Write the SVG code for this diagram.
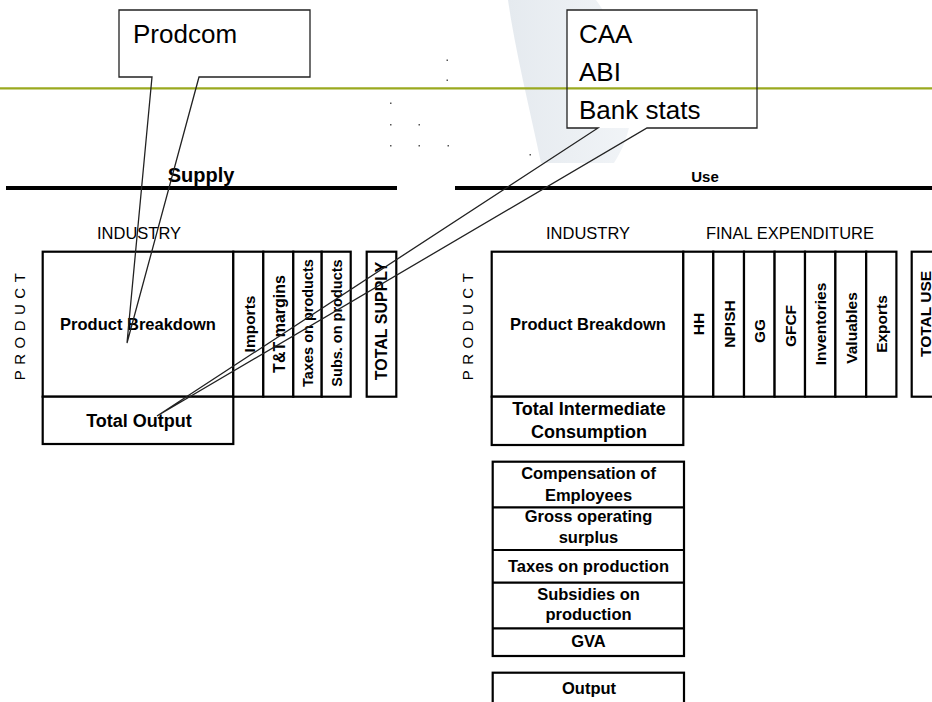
<svg xmlns="http://www.w3.org/2000/svg" width="932" height="702" viewBox="0 0 932 702">
<defs>
<linearGradient id="sw" x1="0" y1="0" x2="1" y2="0">
<stop offset="0" stop-color="#e5eaef"/>
<stop offset="1" stop-color="#f1f4f7"/>
</linearGradient>
<style>
text{font-family:"Liberation Sans",Arial,sans-serif;fill:#000}
.b{font-weight:bold}
.c{text-anchor:middle}
.r{text-anchor:middle;dominant-baseline:central;font-weight:bold}
.cell{fill:#fff;stroke:#000;stroke-width:2.2}
.rule{stroke:#000;stroke-width:4}
.co{fill:#fff;stroke:none}
.tail{fill:none;stroke:#222;stroke-width:1.3;stroke-linejoin:miter}
.dot{fill:#555}
.big{font-size:26px}
.hd{font-size:16.5px}
.prod{font-size:15px;letter-spacing:5.5px;text-anchor:middle;dominant-baseline:central}
</style>
</defs>
<rect width="932" height="702" fill="#fff"/>
<path d="M508,0 L596,0 C625,40 650,110 614,163 L541,163 C530,110 515,50 508,0 Z" fill="url(#sw)"/>
<g id="dots" class="dot">
<rect x="446.5" y="59.5" width="1.5" height="1.5"/>
<rect x="446.5" y="79.5" width="1.5" height="1.5"/>
<rect x="390" y="102.5" width="1.5" height="1.5"/>
<rect x="390" y="124" width="1.5" height="1.5"/>
<rect x="418.5" y="124" width="1.5" height="1.5"/>
<rect x="390" y="145" width="1.5" height="1.5"/>
<rect x="418.5" y="145" width="1.5" height="1.5"/>
<rect x="447.5" y="145" width="1.5" height="1.5"/>
<rect x="529.5" y="154" width="1.5" height="1.5"/>
</g>
<g id="prodcom">
<rect class="co" x="119" y="10" width="191" height="67"/>
<text class="big" x="133" y="43">Prodcom</text>
</g>
<g id="sources">
<rect class="co" x="567" y="10" width="190" height="118"/>
<text class="big" x="579" y="43">CAA</text>
<text class="big" x="579" y="81">ABI</text>
<text class="big" x="579" y="119">Bank stats</text>
</g>
<line id="green-rule" x1="0" y1="88.3" x2="932" y2="88.3" stroke="#9aa91f" stroke-width="2.2"/>
<g id="supply-header">
<line class="rule" x1="6" y1="188" x2="397" y2="188"/>
<text class="b c" x="201" y="182" font-size="20">Supply</text>
<text class="hd c" x="139" y="238.5">INDUSTRY</text>
<text class="prod" transform="translate(19,324) rotate(-90)">PRODUCT</text>
</g>
<g id="supply-breakdown">
<rect class="cell" x="42.7" y="251.7" width="190.6" height="145"/>
<text class="b c" x="138" y="330" font-size="16.5">Product Breakdown</text>
</g>
<g id="supply-total-output">
<rect class="cell" x="42.7" y="396.7" width="190.6" height="47.3"/>
<text class="b c" x="139" y="426.7" font-size="18">Total Output</text>
</g>
<g id="supply-imports">
<rect class="cell" x="233.3" y="251.7" width="30" height="145"/>
<text class="r" font-size="15.5" transform="translate(249,324) rotate(-90)">Imports</text>
</g>
<g id="supply-tt">
<rect class="cell" x="263.3" y="251.7" width="30" height="145"/>
<text class="r" font-size="16" transform="translate(279,324) rotate(-90)">T&amp;T margins</text>
</g>
<g id="supply-taxes">
<rect class="cell" x="293.3" y="251.7" width="28.4" height="145"/>
<text class="r" font-size="14.5" transform="translate(307.8,323) rotate(-90)">Taxes on products</text>
</g>
<g id="supply-subs">
<rect class="cell" x="321.7" y="251.7" width="29" height="145"/>
<text class="r" font-size="14.5" transform="translate(336.5,323) rotate(-90)">Subs. on products</text>
</g>
<g id="supply-total">
<rect class="cell" x="366.7" y="251.7" width="29.6" height="145"/>
<text class="r" font-size="16" transform="translate(381.8,321) rotate(-90)">TOTAL SUPPLY</text>
</g>
<g id="use-header">
<line class="rule" x1="455" y1="188" x2="932" y2="188"/>
<text class="b c" x="705" y="182" font-size="15">Use</text>
<text class="hd c" x="588" y="239">INDUSTRY</text>
<text class="hd c" x="790" y="239">FINAL EXPENDITURE</text>
<text class="prod" transform="translate(467.5,324) rotate(-90)">PRODUCT</text>
</g>
<g id="use-breakdown">
<rect class="cell" x="491.7" y="251.7" width="191.6" height="145"/>
<text class="b c" x="588" y="330" font-size="16.5">Product Breakdown</text>
</g>
<g id="use-hh">
<rect class="cell" x="683.3" y="251.7" width="30" height="145"/>
<text class="r" font-size="15.5" transform="translate(698.5,324) rotate(-90)">HH</text>
</g>
<g id="use-npish">
<rect class="cell" x="713.3" y="251.7" width="30.7" height="145"/>
<text class="r" font-size="15.5" transform="translate(729,324) rotate(-90)">NPISH</text>
</g>
<g id="use-gg">
<rect class="cell" x="744" y="251.7" width="30.6" height="145"/>
<text class="r" font-size="15.5" transform="translate(759.5,331) rotate(-90)">GG</text>
</g>
<g id="use-gfcf">
<rect class="cell" x="774.6" y="251.7" width="30.4" height="145"/>
<text class="r" font-size="15.5" transform="translate(790,326) rotate(-90)">GFCF</text>
</g>
<g id="use-inventories">
<rect class="cell" x="805" y="251.7" width="30.4" height="145"/>
<text class="r" font-size="15.5" transform="translate(820.5,324) rotate(-90)">Inventories</text>
</g>
<g id="use-valuables">
<rect class="cell" x="835.4" y="251.7" width="30.8" height="145"/>
<text class="r" font-size="15.5" transform="translate(851,328) rotate(-90)">Valuables</text>
</g>
<g id="use-exports">
<rect class="cell" x="866.2" y="251.7" width="30.2" height="145"/>
<text class="r" font-size="15.5" transform="translate(881.5,324) rotate(-90)">Exports</text>
</g>
<g id="use-total">
<rect class="cell" x="911.7" y="251.7" width="40" height="145"/>
<text class="r" font-size="15.5" transform="translate(925,314) rotate(-90)">TOTAL USE</text>
</g>
<g id="use-tic">
<rect class="cell" x="491.7" y="396.7" width="191.6" height="48.3"/>
<text class="b c" x="589" y="415" font-size="18">Total Intermediate</text>
<text class="b c" x="589" y="438.3" font-size="18">Consumption</text>
</g>
<g id="use-va" class="b">
<rect class="cell" x="492.7" y="461.7" width="191.3" height="194.3"/>
<line class="cell" x1="492.7" y1="507.3" x2="684" y2="507.3"/>
<line class="cell" x1="492.7" y1="550" x2="684" y2="550"/>
<line class="cell" x1="492.7" y1="582.7" x2="684" y2="582.7"/>
<line class="cell" x1="492.7" y1="628.3" x2="684" y2="628.3"/>
<text class="b c" x="588.5" y="479.3" font-size="16.5">Compensation of</text>
<text class="b c" x="588.5" y="500.7" font-size="16.5">Employees</text>
<text class="b c" x="588.5" y="521.7" font-size="16.5">Gross operating</text>
<text class="b c" x="588.5" y="543.3" font-size="16.5">surplus</text>
<text class="b c" x="588.5" y="571.7" font-size="16.5">Taxes on production</text>
<text class="b c" x="588.5" y="600" font-size="16.5">Subsidies on</text>
<text class="b c" x="588.5" y="620" font-size="16.5">production</text>
<text class="b c" x="588.5" y="646.7" font-size="16.5">GVA</text>
</g>
<g id="use-output">
<rect class="cell" x="492.7" y="672.7" width="191.3" height="40"/>
<text class="b c" x="589" y="694" font-size="16.5">Output</text>
</g>
<g id="connectors">
<path class="tail" d="M152,77 H119 V10 H310 V77 H199 L127,343 Z"/>
<path class="tail" d="M598,128 H567 V10 H757 V128 H647 L157,416 Z"/>
</g>
</svg>
